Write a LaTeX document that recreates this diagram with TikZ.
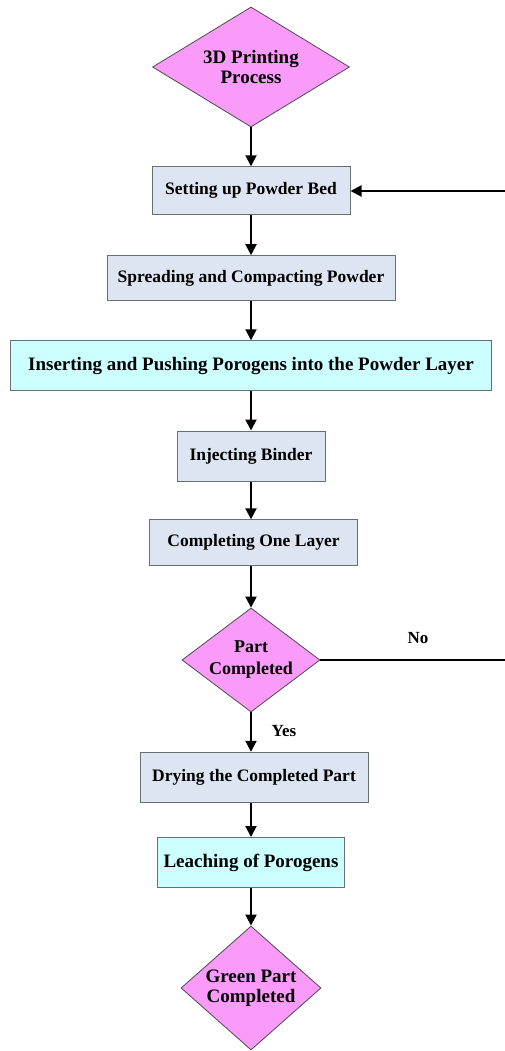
\documentclass[tikz,border=0pt]{standalone}
\usepackage{fontspec}
\setmainfont{Liberation Serif}
\usetikzlibrary{shapes.geometric,arrows.meta}
\definecolor{boxfill}{RGB}{220,229,241}
\definecolor{cyanfill}{RGB}{204,255,255}
\definecolor{pinkfill}{RGB}{250,155,250}
\definecolor{edgegray}{RGB}{105,112,112}
\tikzset{
  procbox/.style={draw=edgegray, line width=1pt, fill=boxfill, inner sep=0pt, align=center,
    font=\bfseries\fontsize{17.5}{21}\selectfont},
  cyanbox/.style={procbox, fill=cyanfill, font=\bfseries\fontsize{19}{22}\selectfont},
  decision/.style={diamond, draw=black!70, line width=0.8pt, fill=pinkfill, inner sep=0pt, align=center,
    font=\bfseries\fontsize{19}{20}\selectfont},
  arr/.style={line width=2pt, -{Triangle[length=11pt,width=11pt]}},
  plainline/.style={line width=2pt},
  lbl/.style={inner sep=0pt, font=\bfseries\fontsize{17}{20}\selectfont}
}
\begin{document}
\begin{tikzpicture}[x=1pt,y=-1pt]
\useasboundingbox (0,0) rectangle (505,1051);
\node[decision, aspect=1.64, minimum width=197pt, minimum height=120pt] (d1) at (251,67) {3D Printing\\Process};
\node[procbox, minimum width=198pt, minimum height=48pt] (b1) at (251,190.8) {Setting up Powder Bed};
\node[procbox, minimum width=288pt, minimum height=45pt] (b2) at (251,278.2) {Spreading and Compacting Powder};
\node[cyanbox, minimum width=481pt, minimum height=50pt] (b3) at (251,365.8) {Inserting and Pushing Porogens into the Powder Layer};
\node[procbox, minimum width=148pt, minimum height=50pt] (b4) at (251,456) {Injecting Binder};
\node[procbox, minimum width=208pt, minimum height=46pt] (b5) at (253.5,542.8) {Completing One Layer};
\node[decision, aspect=1.33, minimum width=138pt, minimum height=104pt,
  font=\bfseries\fontsize{18}{22}\selectfont] (d2) at (251,660) {Part\\Completed};
\node[procbox, minimum width=228pt, minimum height=50pt] (b6) at (254,777.3) {Drying the Completed Part};
\node[cyanbox, minimum width=187pt, minimum height=50pt] (b7) at (251,862.5) {Leaching of Porogens};
\node[decision, aspect=1.13, minimum width=140pt, minimum height=124pt] (d3) at (251,988) {Green Part\\Completed};
\node[lbl] (no) at (418,638) {No};
\node[lbl] (yes) at (284,731) {Yes};
\coordinate (rno) at (505,660);
\coordinate (rtop) at (505,191);
\draw[arr] (d1.south) -- (d1.south |- b1.north);
\draw[arr] (b1.south) -- (b1.south |- b2.north);
\draw[arr] (b2.south) -- (b2.south |- b3.north);
\draw[arr] (b3.south) -- (b3.south |- b4.north);
\draw[arr] (b4.south) -- (b4.south |- b5.north);
\draw[arr] (b5.south -| d2.north) -- (d2.north);
\draw[arr] (d2.south) -- (d2.south |- b6.north);
\draw[arr] (b6.south -| b7.north) -- (b7.north);
\draw[arr] (b7.south) -- (d3.north);
\draw[plainline] (d2.east) -- (d2.east -| rno);
\draw[arr] (rtop) -- (rtop -| b1.east);
\end{tikzpicture}
\end{document}
